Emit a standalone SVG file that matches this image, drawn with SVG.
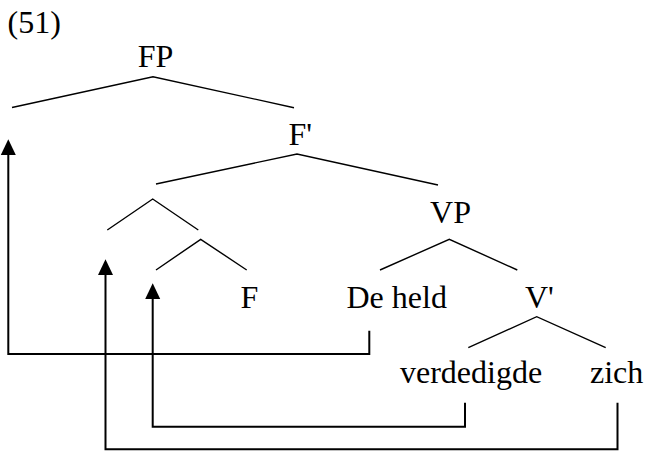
<svg xmlns="http://www.w3.org/2000/svg" width="646" height="451" viewBox="0 0 646 451">
  <style>
    text { font-family: "Liberation Serif", "Times New Roman", serif; font-size: 32px; fill: #000; }
    .mid { text-anchor: middle; }
    .branch { stroke: #000; stroke-width: 1.4; fill: none; }
    .move { stroke: #000; stroke-width: 2; fill: none; }
  </style>
  <defs>
    <marker id="head" markerUnits="userSpaceOnUse" markerWidth="16" markerHeight="16" viewBox="0 0 16 16" refX="8" refY="0" orient="auto-start-reverse">
      <path d="M0,16 L8,0 L16,16 Z" fill="#000"/>
    </marker>
  </defs>

  <text id="example-number" x="7.5" y="33">(51)</text>

  <g id="FP">
    <text class="mid" x="155.5" y="67">FP</text>
    <polyline class="branch" points="12,107.5 153,76.7 294,107.7"/>
  </g>
  <g id="F-bar">
    <text x="288.5" y="145">F'</text>
    <polyline class="branch" points="156,184 297,154 438,185"/>
  </g>
  <g id="spec-node">
    <polyline class="branch" points="107.3,230 152.7,199 198.3,230"/>
  </g>
  <g id="head-node">
    <polyline class="branch" points="156,270 200.7,239.3 246.7,270"/>
  </g>
  <g id="F">
    <text class="mid" x="249.5" y="308">F</text>
  </g>
  <g id="VP">
    <text class="mid" x="450.5" y="222.5">VP</text>
    <polyline class="branch" points="380,270 449.3,239.3 517.3,270"/>
  </g>
  <g id="De-held">
    <text class="mid" x="396.7" y="308">De held</text>
  </g>
  <g id="V-bar">
    <text x="525" y="308">V'</text>
    <polyline class="branch" points="468.3,347.7 536.7,316.7 605.7,347.7"/>
  </g>
  <g id="verdedigde">
    <text x="400" y="383.3">verdedigde</text>
  </g>
  <g id="zich">
    <text x="590" y="383.3">zich</text>
  </g>

  <g id="connectors">
    <path class="move" d="M369.3,330.7 V354 H8.3 V147"/>
    <path class="move" d="M465,402.7 V426.7 H152.7 V291"/>
    <path class="move" d="M617.5,402.7 V449.3 H105.5 V267"/>
    <path d="M8.3,139.3 L15.8,155 L0.8,155 Z" fill="#000"/>
    <path d="M152.7,283.3 L160.2,299 L145.2,299 Z" fill="#000"/>
    <path d="M105.5,259.3 L113,275 L98,275 Z" fill="#000"/>
  </g>
</svg>
